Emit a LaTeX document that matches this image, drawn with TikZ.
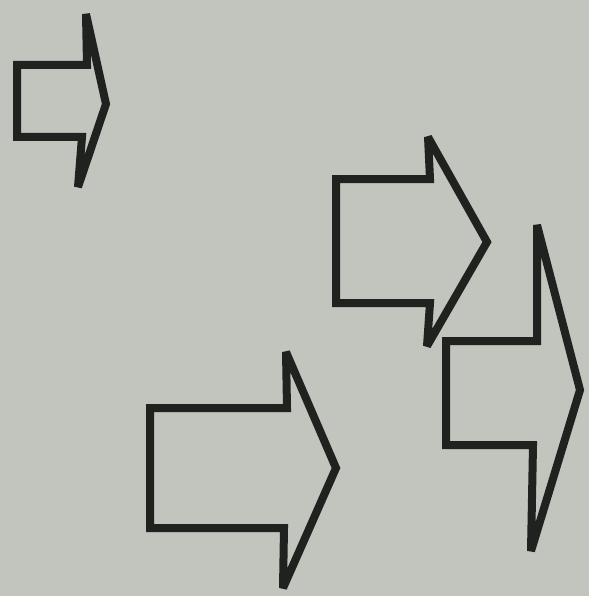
\documentclass[tikz,border=0pt]{standalone}
\definecolor{paper}{RGB}{194,196,190}
\definecolor{ink}{RGB}{32,34,32}
\tikzset{
  arrowoutline/.style={draw=ink, line width=8pt, line join=miter, miter limit=2.5},
}
\begin{document}
\begin{tikzpicture}[x=1pt,y=-1pt]
\fill[paper] (0,0) rectangle (589,596);
\useasboundingbox (0,0) rectangle (589,596);
% arrow 1 (top left)
\draw[arrowoutline] (17,65) -- (87,65) -- (86,14) -- (106,104) -- (78,187) -- (82,137) -- (17,137) -- cycle;
% arrow 2 (middle right)
\draw[arrowoutline] (336,179) -- (430,179) -- (428,137) -- (487,242) -- (427,346) -- (430,303) -- (336,303) -- cycle;
% arrow 3 (bottom)
\draw[arrowoutline] (150,408) -- (287,408) -- (286,352) -- (336,468) -- (283,588) -- (284,528) -- (150,528) -- cycle;
% arrow 4 (right)
\draw[arrowoutline] (446,341) -- (537,341) -- (537,225) -- (580,390) -- (531,551) -- (533,445) -- (446,445) -- cycle;
\end{tikzpicture}
\end{document}
